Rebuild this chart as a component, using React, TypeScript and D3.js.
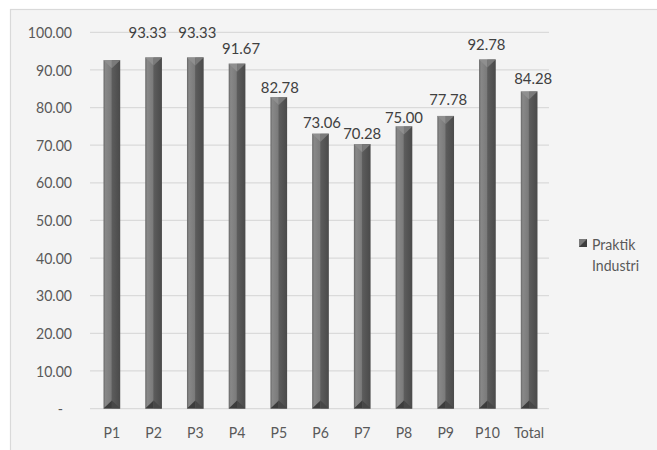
import React from 'react';
import * as d3 from 'd3';

// chart data
const categories = ['P1', 'P2', 'P3', 'P4', 'P5', 'P6', 'P7', 'P8', 'P9', 'P10', 'Total'];
const values = [92.6, 93.33, 93.33, 91.67, 82.78, 73.06, 70.28, 75.0, 77.78, 92.78, 84.28];
const shownLabels = [false, true, true, true, true, true, true, true, true, true, true];
const yTicks = [0, 10, 20, 30, 40, 50, 60, 70, 80, 90, 100];
const seriesName = ['Praktik', 'Industri'];

// hand-placed data labels in the original (dx, dy of label centre from bar top)
const labelNudge: [number, number][] = [
  [0, -11], [-6, -25.5], [2, -25.5], [4, -15], [1, -9.5], [1.5, -11],
  [0, -11], [0, -9], [2.5, -17], [-1, -15], [4, -13.5],
];

const W = 657;
const H = 450;
const FONT = 'Lato, "Open Sans", sans-serif';

// Calibri-ish look: a taller font squeezed horizontally
const Label: React.FC<{
  x: number; y: number; text: string; anchor?: 'start' | 'middle' | 'end';
  size?: number; squeeze?: number; fill?: string;
}> = ({ x, y, text, anchor = 'start', size = 16, squeeze = 0.88, fill = '#595959' }) => (
  <g transform={`translate(${x},${y}) scale(${squeeze},1)`}>
    <text dy="0.35em" textAnchor={anchor} fontFamily={FONT} fontSize={size} fill={fill}>
      {text}
    </text>
  </g>
);

const App: React.FC = () => {
  const x = d3.scaleBand<string>()
    .domain(categories)
    .range([91, 550])
    .paddingInner(0.6)
    .paddingOuter(0.3);

  const y = d3.scaleLinear().domain([0, 100]).range([408.6, 32.3]);

  const fmt = d3.format('.2f');
  const bw = x.bandwidth();
  const bevel = 8;

  return (
    <svg width={W} height={H} style={{ position: 'absolute', left: 0, top: 0 }}>
      <defs>
        <linearGradient id="barBody" x1="0" x2="1" y1="0" y2="0">
          <stop offset="0%" stopColor="#666" />
          <stop offset="12%" stopColor="#888" />
          <stop offset="45%" stopColor="#7b7b7b" />
          <stop offset="52%" stopColor="#5c5c5c" />
          <stop offset="100%" stopColor="#4a4a4a" />
        </linearGradient>
      </defs>

      <rect x={0} y={0} width={W} height={H} fill="#fff" />
      {/* chart area */}
      <rect x={10.5} y={9.5} width={W} height={H} fill="#f4f4f4" stroke="#d9d9d9" strokeWidth={1.2} />

      {/* gridlines + y tick labels */}
      {yTicks.map(t => (
        <g key={t}>
          <line x1={90} x2={549} y1={y(t)} y2={y(t)} stroke="#dadada" strokeWidth={1.3} />
          <Label x={t === 0 ? 63 : 72} y={y(t)} text={t === 0 ? '-' : fmt(t)} anchor="end" />
        </g>
      ))}

      {/* bars */}
      {categories.map((c, i) => {
        const x0 = x(c)!;
        const x1 = x0 + bw;
        const cx = x0 + bw / 2;
        const top = y(values[i]);
        const bottom = y(0);
        return (
          <g key={c}>
            <rect x={x0} y={top} width={bw} height={bottom - top} fill="url(#barBody)" />
            <polygon points={`${x0},${top} ${cx},${top + bevel} ${cx},${top}`} fill="#8f8f8f" />
            <polygon points={`${cx},${top} ${cx},${top + bevel} ${x1},${top}`} fill="#7a7a7a" />
            <polygon points={`${x0},${bottom} ${cx},${bottom - bevel} ${cx},${bottom}`} fill="#3c3c3c" />
            <polygon points={`${cx},${bottom} ${cx},${bottom - bevel} ${x1},${bottom}`} fill="#474747" />
          </g>
        );
      })}

      {/* data labels */}
      {categories.map((c, i) => shownLabels[i] && (
        <Label
          key={c}
          x={x(c)! + bw / 2 + labelNudge[i][0]}
          y={y(values[i]) + labelNudge[i][1]}
          text={fmt(values[i])}
          anchor="middle"
          squeeze={0.93}
          fill="#404040"
        />
      ))}

      {/* x labels */}
      {categories.map(c => (
        <Label key={c} x={x(c)! + bw / 2} y={432} text={c} anchor="middle" />
      ))}

      {/* legend */}
      <g>
        <rect x={579} y={239} width={8} height={8} fill="#7a7a7a" />
        <polygon points="587,239 587,247 579,247" fill="#3e3e3e" />
        {seriesName.map((s, i) => (
          <Label key={s} x={592} y={244 + i * 21} text={s} />
        ))}
      </g>
    </svg>
  );
};

export default App;
